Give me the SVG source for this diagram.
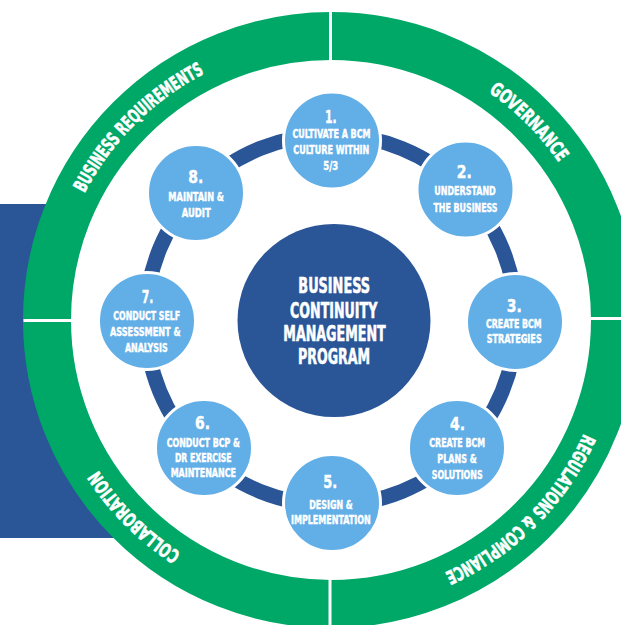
<svg xmlns="http://www.w3.org/2000/svg" width="621" height="625" viewBox="0 0 621 625">
<defs>
<style>
.t{font-family:"DejaVu Sans Condensed","DejaVu Sans","Liberation Sans",sans-serif;font-weight:bold;fill:#fff;text-anchor:middle;stroke:#fff;stroke-width:0.45px}
.num{font-size:18.5px}
.lbl{font-size:12px}
.ctr{font-size:20.5px;stroke-width:0.6px}
.ring{font-size:19px;stroke-width:0.6px}
.node{fill:#62aee6;stroke:#fff;stroke-width:3}
.conn{fill:none;stroke:#2a5597;stroke-width:15}
.div{stroke:#fff;stroke-width:3}
</style>
<path id="ringPath" d="M 54,320 A 277 277 0 1 1 608,320 A 277 277 0 1 1 54,320"/>
</defs>
<rect width="621" height="625" fill="#fff"/>
<rect x="0" y="204" width="130" height="334" fill="#2a5597"/>
<g id="outer-ring">
<circle cx="331" cy="320" r="284" fill="#fff" stroke="#00a868" stroke-width="48"/>
<line class="div" x1="330.5" y1="8" x2="330.5" y2="64"/>
<line class="div" x1="23.5" y1="320.5" x2="74" y2="320.5"/>
<line class="div" x1="587" y1="318.5" x2="621" y2="318.5"/>
<line class="div" x1="330" y1="576" x2="330" y2="625"/>
<text class="t ring"><textPath href="#ringPath" startOffset="12.5%" textLength="172" lengthAdjust="spacingAndGlyphs">BUSINESS REQUIREMENTS</textPath></text>
<text class="t ring"><textPath href="#ringPath" startOffset="37.5%" textLength="100" lengthAdjust="spacingAndGlyphs">GOVERNANCE</textPath></text>
<text class="t ring"><textPath href="#ringPath" startOffset="62.5%" textLength="201" lengthAdjust="spacingAndGlyphs">REGULATIONS &amp; COMPLIANCE</textPath></text>
<text class="t ring"><textPath href="#ringPath" startOffset="87.5%" textLength="118" lengthAdjust="spacingAndGlyphs">COLLABORATION</textPath></text>
</g>
<g id="connectors">
<path class="conn" d="M 332,135 A 185 185 0 0 1 462,188"/>
<path class="conn" d="M 462,188 A 185 185 0 0 1 516,320"/>
<path class="conn" d="M 516,320 A 185 185 0 0 1 462,452"/>
<path class="conn" d="M 462,452 A 185 185 0 0 1 331,505"/>
<path class="conn" d="M 331,505 A 185 185 0 0 1 200,452"/>
<path class="conn" d="M 200,452 A 185 185 0 0 1 146,320"/>
<path class="conn" d="M 146,320 A 185 185 0 0 1 200,188"/>
<path class="conn" d="M 200,188 A 185 185 0 0 1 332,135"/>
</g>
<g id="center">
<circle cx="334" cy="320.5" r="96.5" fill="#2a5597"/>
<text class="t ctr" x="334.2" y="293.3" textLength="71.7" lengthAdjust="spacingAndGlyphs">BUSINESS</text>
<text class="t ctr" x="333.7" y="317.7" textLength="87.3" lengthAdjust="spacingAndGlyphs">CONTINUITY</text>
<text class="t ctr" x="334.5" y="341" textLength="102.4" lengthAdjust="spacingAndGlyphs">MANAGEMENT</text>
<text class="t ctr" x="334" y="364.3" textLength="72" lengthAdjust="spacingAndGlyphs">PROGRAM</text>
</g>
<g id="node1">
<circle class="node" cx="332" cy="140.5" r="48.5"/>
<text class="t num" x="330.8" y="123.3" textLength="11.7" lengthAdjust="spacingAndGlyphs">1.</text>
<text class="t lbl" x="331.5" y="138.3" textLength="78" lengthAdjust="spacingAndGlyphs">CULTIVATE A BCM</text>
<text class="t lbl" x="331.3" y="154" textLength="76" lengthAdjust="spacingAndGlyphs">CULTURE WITHIN</text>
<text class="t lbl" x="330.8" y="170" textLength="15" lengthAdjust="spacingAndGlyphs">5/3</text>
</g>
<g id="node2">
<circle class="node" cx="465.5" cy="189.5" r="48.5"/>
<text class="t num" x="464.2" y="178.3" textLength="15" lengthAdjust="spacingAndGlyphs">2.</text>
<text class="t lbl" x="465" y="195" textLength="61.5" lengthAdjust="spacingAndGlyphs">UNDERSTAND</text>
<text class="t lbl" x="465.5" y="211.7" textLength="64" lengthAdjust="spacingAndGlyphs">THE BUSINESS</text>
</g>
<g id="node3">
<circle class="node" cx="515" cy="322" r="48.5"/>
<text class="t num" x="514.2" y="312.3" textLength="15" lengthAdjust="spacingAndGlyphs">3.</text>
<text class="t lbl" x="513.8" y="328.3" textLength="55.7" lengthAdjust="spacingAndGlyphs">CREATE BCM</text>
<text class="t lbl" x="514.2" y="343.3" textLength="55" lengthAdjust="spacingAndGlyphs">STRATEGIES</text>
</g>
<g id="node4">
<circle class="node" cx="457" cy="448" r="48.5"/>
<text class="t num" x="457.5" y="430" textLength="15" lengthAdjust="spacingAndGlyphs">4.</text>
<text class="t lbl" x="457.2" y="446.7" textLength="55.7" lengthAdjust="spacingAndGlyphs">CREATE BCM</text>
<text class="t lbl" x="457" y="463.3" textLength="39.4" lengthAdjust="spacingAndGlyphs">PLANS &amp;</text>
<text class="t lbl" x="457.2" y="479" textLength="51" lengthAdjust="spacingAndGlyphs">SOLUTIONS</text>
</g>
<g id="node5">
<circle class="node" cx="332" cy="503" r="48.5"/>
<text class="t num" x="330.3" y="488.3" textLength="14" lengthAdjust="spacingAndGlyphs">5.</text>
<text class="t lbl" x="331" y="509.3" textLength="43.4" lengthAdjust="spacingAndGlyphs">DESIGN &amp;</text>
<text class="t lbl" x="330.8" y="524" textLength="79.7" lengthAdjust="spacingAndGlyphs">IMPLEMENTATION</text>
</g>
<g id="node6">
<circle class="node" cx="204" cy="448" r="48.5"/>
<text class="t num" x="202.5" y="429.3" textLength="15" lengthAdjust="spacingAndGlyphs">6.</text>
<text class="t lbl" x="203.3" y="446.7" textLength="73.3" lengthAdjust="spacingAndGlyphs">CONDUCT BCP &amp;</text>
<text class="t lbl" x="203.3" y="461.7" textLength="56.7" lengthAdjust="spacingAndGlyphs">DR EXERCISE</text>
<text class="t lbl" x="203.3" y="477.3" textLength="65.3" lengthAdjust="spacingAndGlyphs">MAINTENANCE</text>
</g>
<g id="node7">
<circle class="node" cx="147" cy="321" r="48.5"/>
<text class="t num" x="147.5" y="303.3" textLength="11.7" lengthAdjust="spacingAndGlyphs">7.</text>
<text class="t lbl" x="146.7" y="320" textLength="66.7" lengthAdjust="spacingAndGlyphs">CONDUCT SELF</text>
<text class="t lbl" x="145.3" y="335.7" textLength="70.7" lengthAdjust="spacingAndGlyphs">ASSESSMENT &amp;</text>
<text class="t lbl" x="146.3" y="351.7" textLength="42.7" lengthAdjust="spacingAndGlyphs">ANALYSIS</text>
</g>
<g id="node8">
<circle class="node" cx="196" cy="193" r="48.5"/>
<text class="t num" x="195.8" y="183.3" textLength="15" lengthAdjust="spacingAndGlyphs">8.</text>
<text class="t lbl" x="196.2" y="200.7" textLength="55.7" lengthAdjust="spacingAndGlyphs">MAINTAIN &amp;</text>
<text class="t lbl" x="196.2" y="216.7" textLength="29" lengthAdjust="spacingAndGlyphs">AUDIT</text>
</g>
</svg>
